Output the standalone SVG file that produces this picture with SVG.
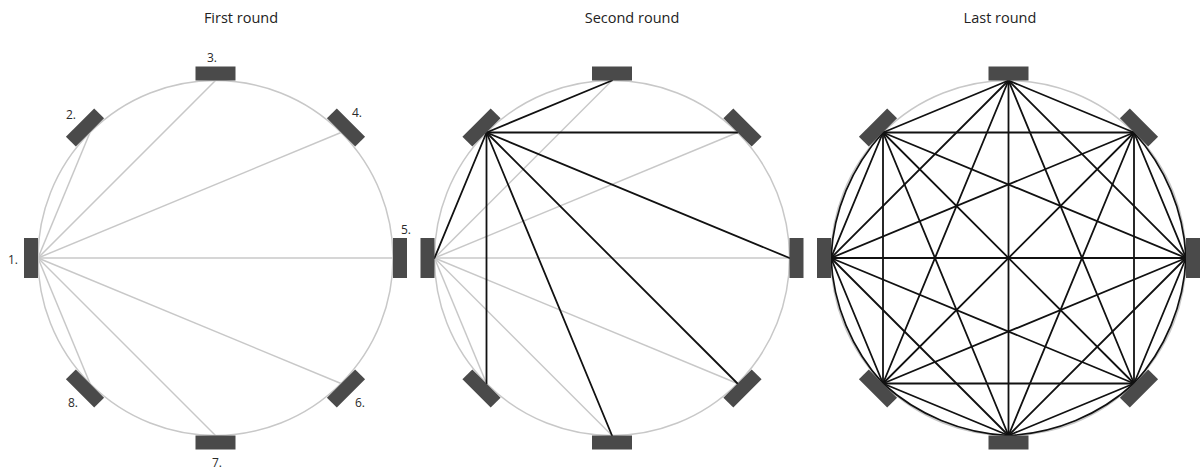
<svg xmlns="http://www.w3.org/2000/svg" width="1204" height="471" viewBox="0 0 1204 471">
  <style>
    .bg { fill: #ffffff; }
    .title { font-family: "Open Sans", "Liberation Sans", sans-serif; font-size: 14.5px; fill: #222222; text-anchor: middle; }
    .label { font-family: "Open Sans", "Liberation Sans", sans-serif; font-size: 12px; fill: #2a2a2a; text-anchor: middle; }
    .ring { fill: none; stroke: #c8c8c8; stroke-width: 1.5; }
    .arc { fill: none; stroke: #111111; stroke-width: 1.7; }
    .gray line { stroke: #c8c8c8; stroke-width: 1.5; }
    .black line { stroke: #111111; stroke-width: 1.8; stroke-linecap: round; }
    .station { fill: #4a4a4a; }
  </style>
  <defs>
    <!-- one station block, centred on its anchor, long side tangential -->
    <rect id="block" class="station" x="-20" y="-7" width="40" height="14"/>
  </defs>

  <rect class="bg" x="0" y="0" width="1204" height="471"/>

  <text class="title" x="241" y="23">First round</text>
  <text class="title" x="632" y="23">Second round</text>
  <text class="title" x="1000" y="23">Last round</text>

  <!-- First round: station 1 talks to every other station -->
  <g id="panel-first" transform="translate(215.5,258)">
    <circle class="ring" cx="0" cy="0" r="177.5"/>
    <g id="connectors-first" class="gray">
      <line x1="-177.5" y1="0" x2="-125.5" y2="-125.5"/>
      <line x1="-177.5" y1="0" x2="0" y2="-177.5"/>
      <line x1="-177.5" y1="0" x2="125.5" y2="-125.5"/>
      <line x1="-177.5" y1="0" x2="177.5" y2="0"/>
      <line x1="-177.5" y1="0" x2="125.5" y2="125.5"/>
      <line x1="-177.5" y1="0" x2="0" y2="177.5"/>
      <line x1="-177.5" y1="0" x2="-125.5" y2="125.5"/>
    </g>
    <g id="first-node-1"><use href="#block" transform="translate(-184.5,0) rotate(90)"/><text class="label" x="-202.5" y="6">1.</text></g>
    <g id="first-node-2"><use href="#block" transform="translate(-130.5,-130.5) rotate(-45)"/><text class="label" x="-144.5" y="-139">2.</text></g>
    <g id="first-node-3"><use href="#block" transform="translate(0,-184.5)"/><text class="label" x="-3.5" y="-196">3.</text></g>
    <g id="first-node-4"><use href="#block" transform="translate(130.5,-130.5) rotate(45)"/><text class="label" x="141.5" y="-141">4.</text></g>
    <g id="first-node-5"><use href="#block" transform="translate(184.5,0) rotate(90)"/><text class="label" x="190.5" y="-24">5.</text></g>
    <g id="first-node-6"><use href="#block" transform="translate(130.5,130.5) rotate(-45)"/><text class="label" x="144.5" y="149">6.</text></g>
    <g id="first-node-7"><use href="#block" transform="translate(0,184.5)"/><text class="label" x="1.5" y="209">7.</text></g>
    <g id="first-node-8"><use href="#block" transform="translate(-130.5,130.5) rotate(45)"/><text class="label" x="-142.5" y="149">8.</text></g>
  </g>

  <!-- Second round: earlier links in grey, station 2 links in black -->
  <g id="panel-second" transform="translate(612,258)">
    <circle class="ring" cx="0" cy="0" r="177.5"/>
    <g id="connectors-second">
      <g class="gray">
        <line x1="-177.5" y1="0" x2="0" y2="-177.5"/>
        <line x1="-177.5" y1="0" x2="125.5" y2="-125.5"/>
        <line x1="-177.5" y1="0" x2="177.5" y2="0"/>
        <line x1="-177.5" y1="0" x2="125.5" y2="125.5"/>
        <line x1="-177.5" y1="0" x2="0" y2="177.5"/>
        <line x1="-177.5" y1="0" x2="-125.5" y2="125.5"/>
      </g>
      <g class="black">
        <line x1="-125.5" y1="-125.5" x2="-177.5" y2="0"/>
        <line x1="-125.5" y1="-125.5" x2="0" y2="-177.5"/>
        <line x1="-125.5" y1="-125.5" x2="125.5" y2="-125.5"/>
        <line x1="-125.5" y1="-125.5" x2="177.5" y2="0"/>
        <line x1="-125.5" y1="-125.5" x2="125.5" y2="125.5"/>
        <line x1="-125.5" y1="-125.5" x2="0" y2="177.5"/>
        <line x1="-125.5" y1="-125.5" x2="-125.5" y2="125.5"/>
      </g>
    </g>
    <g id="second-node-1"><use href="#block" transform="translate(-184.5,0) rotate(90)"/></g>
    <g id="second-node-2"><use href="#block" transform="translate(-130.5,-130.5) rotate(-45)"/></g>
    <g id="second-node-3"><use href="#block" transform="translate(0,-184.5)"/></g>
    <g id="second-node-4"><use href="#block" transform="translate(130.5,-130.5) rotate(45)"/></g>
    <g id="second-node-5"><use href="#block" transform="translate(184.5,0) rotate(90)"/></g>
    <g id="second-node-6"><use href="#block" transform="translate(130.5,130.5) rotate(-45)"/></g>
    <g id="second-node-7"><use href="#block" transform="translate(0,184.5)"/></g>
    <g id="second-node-8"><use href="#block" transform="translate(-130.5,130.5) rotate(45)"/></g>
  </g>

  <!-- Last round: the complete graph on eight stations -->
  <g id="panel-last" transform="translate(1008.5,258)">
    <circle class="ring" cx="0" cy="0" r="177.5"/>
    <g id="connectors-last">
      <path class="arc" d="M125.5,-125.5 A200,200 0 0 1 177.5,0 A200,200 0 0 1 125.5,125.5 A200,200 0 0 1 0,177.5 A200,200 0 0 1 -125.5,125.5 A200,200 0 0 1 -177.5,0 A200,200 0 0 1 -125.5,-125.5"/>
      <g class="black">
        <line x1="-177.5" y1="0" x2="-125.5" y2="-125.5"/>
        <line x1="-177.5" y1="0" x2="0" y2="-177.5"/>
        <line x1="-177.5" y1="0" x2="125.5" y2="-125.5"/>
        <line x1="-177.5" y1="0" x2="177.5" y2="0"/>
        <line x1="-177.5" y1="0" x2="125.5" y2="125.5"/>
        <line x1="-177.5" y1="0" x2="0" y2="177.5"/>
        <line x1="-177.5" y1="0" x2="-125.5" y2="125.5"/>
        <line x1="-125.5" y1="-125.5" x2="0" y2="-177.5"/>
        <line x1="-125.5" y1="-125.5" x2="125.5" y2="-125.5"/>
        <line x1="-125.5" y1="-125.5" x2="177.5" y2="0"/>
        <line x1="-125.5" y1="-125.5" x2="125.5" y2="125.5"/>
        <line x1="-125.5" y1="-125.5" x2="0" y2="177.5"/>
        <line x1="-125.5" y1="-125.5" x2="-125.5" y2="125.5"/>
        <line x1="0" y1="-177.5" x2="125.5" y2="-125.5"/>
        <line x1="0" y1="-177.5" x2="177.5" y2="0"/>
        <line x1="0" y1="-177.5" x2="125.5" y2="125.5"/>
        <line x1="0" y1="-177.5" x2="0" y2="177.5"/>
        <line x1="0" y1="-177.5" x2="-125.5" y2="125.5"/>
        <line x1="125.5" y1="-125.5" x2="177.5" y2="0"/>
        <line x1="125.5" y1="-125.5" x2="125.5" y2="125.5"/>
        <line x1="125.5" y1="-125.5" x2="0" y2="177.5"/>
        <line x1="125.5" y1="-125.5" x2="-125.5" y2="125.5"/>
        <line x1="177.5" y1="0" x2="125.5" y2="125.5"/>
        <line x1="177.5" y1="0" x2="0" y2="177.5"/>
        <line x1="177.5" y1="0" x2="-125.5" y2="125.5"/>
        <line x1="125.5" y1="125.5" x2="0" y2="177.5"/>
        <line x1="125.5" y1="125.5" x2="-125.5" y2="125.5"/>
        <line x1="0" y1="177.5" x2="-125.5" y2="125.5"/>
      </g>
    </g>
    <g id="last-node-1"><use href="#block" transform="translate(-184.5,0) rotate(90)"/></g>
    <g id="last-node-2"><use href="#block" transform="translate(-130.5,-130.5) rotate(-45)"/></g>
    <g id="last-node-3"><use href="#block" transform="translate(0,-184.5)"/></g>
    <g id="last-node-4"><use href="#block" transform="translate(130.5,-130.5) rotate(45)"/></g>
    <g id="last-node-5"><use href="#block" transform="translate(184.5,0) rotate(90)"/></g>
    <g id="last-node-6"><use href="#block" transform="translate(130.5,130.5) rotate(-45)"/></g>
    <g id="last-node-7"><use href="#block" transform="translate(0,184.5)"/></g>
    <g id="last-node-8"><use href="#block" transform="translate(-130.5,130.5) rotate(45)"/></g>
  </g>
</svg>
